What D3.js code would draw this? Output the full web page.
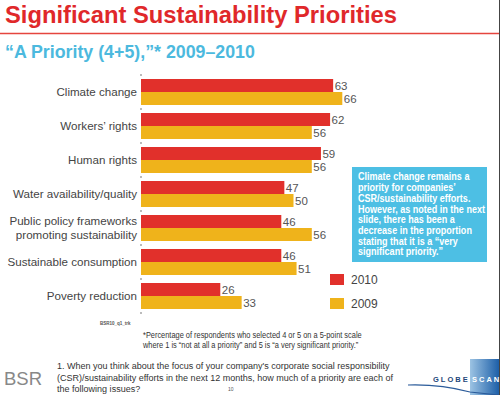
<!DOCTYPE html>
<html><head><meta charset="utf-8">
<script src="https://cdn.jsdelivr.net/npm/d3@7"></script>
<style>body{margin:0;background:#fff}svg{display:block}</style>
</head><body>
<svg id="c" width="500" height="395"></svg>
<script>
const categories = [["Climate change"],["Workers’ rights"],["Human rights"],["Water availability/quality"],["Public policy frameworks","promoting sustainability"],["Sustainable consumption"],["Poverty reduction"]];
const series = ["2010","2009"];
const values2010 = [63,62,59,47,46,46,26];
const values2009 = [66,56,56,50,56,51,33];
const colors = {"2010":"#e1302b","2009":"#efb31b"};
const noteLines = ["Climate change remains a","priority for companies’","CSR/sustainability efforts.","However, as noted in the next","slide, there has been a","decrease in the proportion","stating that it is a “very","significant priority.”"];
const footLines = ["*Percentage of respondents who selected  4 or 5 on a 5-point scale","where 1 is “not at all a priority” and 5 is “a very significant priority.”"];
const questionLines = ["1.  When you think about the focus of your company's corporate social responsibility","(CSR)/sustainability efforts in the next 12 months, how much of a priority are each of","the following issues?"];

const svg = d3.select("#c");
const F = "Arial, 'Liberation Sans', sans-serif";

function fit(t, w){ const l = t.node().getComputedTextLength(); const fs = parseFloat(t.attr("font-size")); t.attr("font-size", (fs*w/l).toFixed(2)); return t; }
// condensed block of lines: scale horizontally so the reference line reaches width w
function condensed(x0, y0, lines, dy, fs, weight, fill, refIdx, w){
  const gg = svg.append("g");
  const ts = lines.map((ln,i)=>gg.append("text").attr("x",0).attr("y",y0+i*dy).attr("font-family",F).attr("font-weight",weight).attr("font-size",fs).attr("fill",fill).text(ln));
  const sx = w / ts[refIdx].node().getComputedTextLength();
  gg.attr("transform",`translate(${x0},0) scale(${sx},1)`);
  return gg;
}

// title
fit(svg.append("text").attr("x",5).attr("y",23).attr("font-family",F).attr("font-weight","bold").attr("font-size",21).attr("fill","#e0282a").text("Significant Sustainability Priorities"),392);
svg.append("line").attr("x1",0).attr("x2",500).attr("y1",33.5).attr("y2",33.5).attr("stroke","#e5453f").attr("stroke-width",1.3);
fit(svg.append("text").attr("x",5).attr("y",58).attr("font-family",F).attr("font-weight","bold").attr("font-size",16).attr("fill","#4cb9de").text("“A Priority (4+5),”* 2009–2010"),250);
svg.append("line").attr("x1",499.5).attr("x2",499.5).attr("y1",0).attr("y2",395).attr("stroke","#444").attr("stroke-width",1);

const keys = categories.map(d=>d.join(" "));
const y = d3.scaleBand().domain(keys).range([75,313]).padding(0);
const ySub = d3.scaleBand().domain(series).range([4,30]).padding(0);
const x = d3.scaleLinear().domain([0,100]).range([141,446]);

// ticks at band boundaries
const bounds = keys.map(k=>y(k)).concat([y.range()[1]]);
svg.append("g").selectAll("rect").data(bounds).join("rect")
  .attr("x",140).attr("y",d=>d-1).attr("width",2).attr("height",2).attr("fill","#bbb");

const data = keys.map((k,i)=>({k, lines:categories[i], v:{"2010":values2010[i],"2009":values2009[i]}}));
const g = svg.append("g").selectAll("g").data(data).join("g").attr("transform",d=>`translate(0,${y(d.k)})`);
series.forEach(s=>{
  g.append("rect").attr("x",x(0)).attr("y",ySub(s)).attr("height",ySub.bandwidth()).attr("width",d=>x(d.v[s])-x(0)).attr("fill",colors[s]);
  g.append("text").attr("x",d=>x(d.v[s])+1.5).attr("y",ySub(s)+ySub.bandwidth()/2).attr("dy","0.36em")
   .attr("font-family",F).attr("font-size",11.5).attr("fill","#555").text(d=>d.v[s]);
});
g.each(function(d){
  const t = d3.select(this).append("text").attr("x",137).attr("text-anchor","end").attr("font-family",F).attr("font-size",11.6).attr("fill","#444");
  const n = d.lines.length;
  d.lines.forEach((ln,j)=>{
    t.append("tspan").attr("x",137).attr("y",17 + (j-(n-1)/2)*14).attr("dy","0.36em").text(ln);
  });
});

// note box
svg.append("rect").attr("x",352).attr("y",167).attr("width",135).attr("height",95).attr("fill","#4dbfe4");
condensed(358, 180.5, noteLines, 10.7, 10.2, "bold", "#fff", 3, 127);

// legend
series.forEach((s,i)=>{
  svg.append("rect").attr("x",330).attr("y",274+i*24).attr("width",14).attr("height",11).attr("fill",colors[s]);
  svg.append("text").attr("x",351).attr("y",284+i*24).attr("font-family",F).attr("font-size",12).attr("fill","#444").text(s);
});

// footnotes
svg.append("text").attr("x",100).attr("y",325).attr("font-family",F).attr("font-weight","bold").attr("font-size",4.5).attr("fill","#555").text("BSR10_q1_trk");
condensed(143, 338, footLines, 10, 8.6, "normal", "#333", 0, 219);
let qfs = null;
questionLines.forEach((ln,i)=>{
  const t = svg.append("text").attr("x",57).attr("y",369+i*11.5).attr("font-family",F).attr("font-size",qfs||10).attr("fill","#333").text(ln);
  if(i===0){ fit(t,333); qfs = t.attr("font-size"); }
});
svg.append("text").attr("x",228).attr("y",391).attr("font-family",F).attr("font-size",5).attr("fill","#555").text("10");
svg.append("text").attr("x",4).attr("y",385).attr("font-family",F).attr("font-size",18.5).attr("fill","#888").text("BSR");

// GlobeScan logo
const grad = svg.append("defs").append("linearGradient").attr("id","gs").attr("x1","0").attr("x2","1");
grad.append("stop").attr("offset","0").attr("stop-color","#9cc3e3");
grad.append("stop").attr("offset","1").attr("stop-color","#1d5fa8");
svg.append("rect").attr("x",470).attr("y",359).attr("width",29).attr("height",36).attr("fill","url(#gs)");
svg.append("path").attr("d","M408,385 Q440,384 470,392 L499,395").attr("fill","none").attr("stroke","#2b5b9a").attr("stroke-width",1.2);
svg.append("text").attr("x",433).attr("y",382).attr("font-family",F).attr("font-weight","bold").attr("font-size",7.5).attr("letter-spacing",2).attr("fill","#24477a").text("GLOBE");
svg.append("text").attr("x",472).attr("y",382).attr("font-family",F).attr("font-weight","bold").attr("font-size",7.5).attr("letter-spacing",2).attr("fill","#fff").text("SCAN");
</script>
</body></html>
